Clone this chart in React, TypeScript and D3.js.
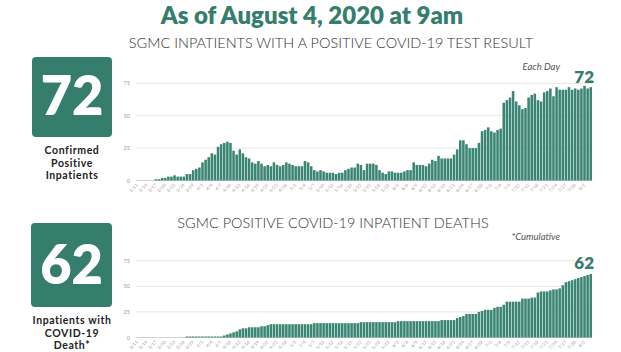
import React from 'react';
import * as d3 from 'd3';

// one label per day, 3/11 .. 8/4
const days = d3.timeDay.range(new Date(2020, 2, 11), new Date(2020, 7, 5));
const dayLabels = days.map(d3.timeFormat('%-m/%-d'));

const inpatients = [
  0, 0, 0, 0, 0, 0, 1, 1, 2, 2, 3, 3, 4, 3, 3, 3, 5, 5, 8, 9,
  10, 14, 16, 18, 21, 20, 26, 28, 29, 30, 29, 23, 20, 24, 21, 18, 17, 14, 13, 15,
  13, 11, 12, 11, 14, 12, 11, 12, 14, 13, 12, 11, 11, 11, 15, 14, 11, 8, 7, 8,
  7, 6, 6, 6, 5, 6, 6, 8, 9, 10, 10, 13, 12, 8, 13, 13, 13, 12, 8, 6,
  5, 7, 7, 6, 6, 6, 7, 8, 8, 14, 12, 12, 12, 11, 13, 16, 15, 19, 17, 17,
  17, 17, 20, 24, 31, 31, 28, 25, 25, 25, 29, 38, 39, 41, 38, 37, 39, 40, 60, 62,
  64, 69, 61, 58, 55, 56, 64, 66, 67, 62, 61, 68, 69, 71, 65, 72, 70, 70, 70, 72,
  70, 71, 70, 71, 73, 71, 72
];

const deaths = [
  0, 0, 0, 0, 0, 0, 0, 0, 0, 0, 0, 0, 0, 0, 0, 0, 1, 1, 1, 1,
  1, 1, 1, 1, 1, 1, 1, 1, 2, 3, 4, 5, 6, 8, 9, 9, 10, 10, 10, 10,
  11, 11, 12, 13, 13, 13, 13, 13, 13, 13, 13, 13, 13, 13, 13, 13, 13, 14, 14, 14,
  14, 14, 14, 14, 14, 14, 14, 14, 14, 14, 14, 14, 15, 15, 15, 15, 15, 15, 15, 15,
  15, 15, 15, 15, 16, 16, 16, 16, 16, 16, 16, 16, 16, 16, 16, 16, 16, 16, 17, 17,
  17, 17, 17, 19, 20, 21, 23, 23, 23, 23, 25, 26, 27, 27, 27, 29, 30, 30, 32, 35,
  35, 35, 35, 35, 38, 38, 38, 39, 39, 44, 45, 45, 45, 46, 47, 47, 48, 51, 54, 55,
  56, 57, 58, 59, 60, 61, 62
];

const yTicks = [0, 25, 50, 75];

const GREEN = '#357d6c';
const BAR = '#3a8573';
const FONT = 'Lato, "Noto Sans", sans-serif';

const x = d3.scaleBand<string>().domain(dayLabels).range([136, 592]).paddingInner(0.18);
const yTop = d3.scaleLinear().domain([0, 75]).range([180.5, 83.3]);
const yBot = d3.scaleLinear().domain([0, 75]).range([337.5, 260.7]);

type PanelProps = { values: number[]; y: d3.ScaleLinear<number, number>; labelDy: number; note: string; noteY: number };

const Panel = ({ values, y, labelDy, note, noteY }: PanelProps) => {
  const base = y(0);
  const last = values[values.length - 1];
  return (
    <g>
      {yTicks.map(t => (
        <g key={t}>
          {t > 0 && <line x1={136} x2={592} y1={y(t)} y2={y(t)} stroke="#e6e6e6" strokeWidth={1} />}
          <text x={130} y={y(t) + 2} textAnchor="end" fontSize={5.5} fill="#9a9a9a">{t}</text>
        </g>
      ))}
      <line x1={136} x2={592} y1={base} y2={base} stroke="#d0d0d0" strokeWidth={1} />
      {values.map((v, i) => v > 0 && (
        <rect key={i} x={x(dayLabels[i])} y={y(v)} width={x.bandwidth()} height={base - y(v)} fill={BAR} />
      ))}
      {dayLabels.map((d, i) => i % 3 === 0 && (
        <text key={d} transform={`translate(${(x(d) ?? 0) + x.bandwidth() / 2 + 1},${base + 5}) rotate(-45)`}
          textAnchor="end" fontSize={4.5} fill="#a0a0a0">{d}</text>
      ))}
      <text x={x(dayLabels[dayLabels.length - 1])! + x.bandwidth() + 2} y={y(last) - labelDy}
        textAnchor="end" fontSize={17} fontWeight={800} fill={GREEN}>{last}</text>
      <text x={560} y={noteY} textAnchor="end" fontSize={9.5} fontStyle="italic" fill="#555">{note}</text>
    </g>
  );
};

const App = () => (
  <svg width={621} height={352} style={{ position: 'absolute', left: 0, top: 0, background: '#fff' }} fontFamily={FONT}>
    <text x={312} y={24} textAnchor="middle" fontSize={24} fontWeight={800} fill={GREEN}>As of August 4, 2020 at 9am</text>
    <text x={331} y={48} textAnchor="middle" fontSize={14.5} fill="#333" fontWeight={300}>SGMC INPATIENTS WITH A POSITIVE COVID-19 TEST RESULT</text>
    <text x={333} y={228} textAnchor="middle" fontSize={14.5} fill="#333" fontWeight={300}>SGMC POSITIVE COVID-19 INPATIENT DEATHS</text>

    <rect x={32} y={57} width={80} height={80} rx={4} fill={GREEN} />
    <text x={72} y={115} textAnchor="middle" fontSize={54} fontWeight={800} fill="#fff">72</text>
    <text x={72} textAnchor="middle" fontSize={10.5} fontWeight={700} fill="#222" letterSpacing={0.6}>
      <tspan x={72} y={154}>Confirmed</tspan>
      <tspan x={72} y={166.5}>Positive</tspan>
      <tspan x={72} y={179}>Inpatients</tspan>
    </text>

    <rect x={31} y={223} width={81} height={84} rx={4} fill={GREEN} />
    <text x={71.5} y={284} textAnchor="middle" fontSize={54} fontWeight={800} fill="#fff">62</text>
    <text x={72} textAnchor="middle" fontSize={10.5} fontWeight={700} fill="#222" letterSpacing={0.6}>
      <tspan x={72} y={324}>Inpatients with</tspan>
      <tspan x={72} y={336.5}>COVID-19</tspan>
      <tspan x={72} y={349}>Death*</tspan>
    </text>

    <Panel values={inpatients} y={yTop} labelDy={4} note="Each Day" noteY={70} />
    <Panel values={deaths} y={yBot} labelDy={5} note="*Cumulative" noteY={240} />
  </svg>
);

export default App;
